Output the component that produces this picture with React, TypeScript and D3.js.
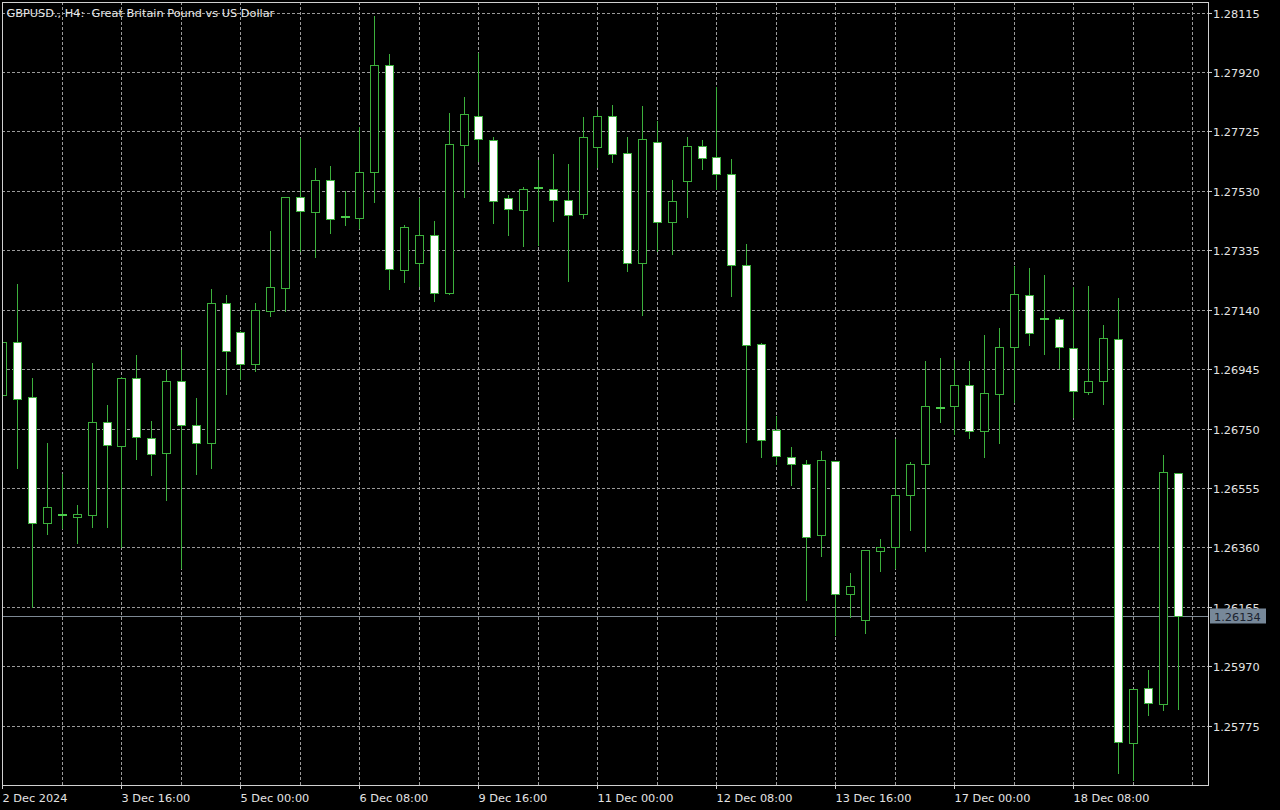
import { useEffect, useRef } from 'react'
import * as d3 from 'd3'

// H4 bars, 2 Dec 08:00 .. 18 Dec 16:00
const OPEN = [
  1.26859, 1.27033, 1.26852, 1.26439, 1.26465, 1.26460, 1.26467, 1.26771, 1.26693, 1.26915,
  1.26720, 1.26670, 1.26906, 1.26763, 1.26701, 1.27161, 1.27066, 1.26963, 1.27137, 1.27210,
  1.27509, 1.27460, 1.27567, 1.27443, 1.27441, 1.27591, 1.27943, 1.27271, 1.27292, 1.27386,
  1.27195, 1.27680, 1.27777, 1.27698, 1.27505, 1.27468, 1.27538, 1.27535, 1.27499, 1.27453,
  1.27673, 1.27777, 1.27653, 1.27292, 1.27689, 1.27426, 1.27563, 1.27677, 1.27640, 1.27584,
  1.27287, 1.27028, 1.26744, 1.26657, 1.26634, 1.26400, 1.26645, 1.26206, 1.26121, 1.26348,
  1.26360, 1.26533, 1.26635, 1.26819, 1.26823, 1.26892, 1.26741, 1.26864, 1.27017, 1.27189,
  1.27108, 1.27108, 1.27015, 1.26870, 1.26906, 1.27045, 1.25717, 1.25898, 1.25845, 1.26604,
]
const HIGH = [
  1.27046, 1.27226, 1.26919, 1.26706, 1.26603, 1.26501, 1.26968, 1.26829, 1.26921, 1.26996,
  1.26779, 1.26946, 1.27012, 1.26855, 1.27212, 1.27190, 1.27072, 1.27165, 1.27402, 1.27514,
  1.27708, 1.27607, 1.27615, 1.27534, 1.27744, 1.28108, 1.27982, 1.27422, 1.27509, 1.27435,
  1.27787, 1.27842, 1.27987, 1.27709, 1.27520, 1.27545, 1.27635, 1.27654, 1.27622, 1.27776,
  1.27797, 1.27815, 1.27711, 1.27813, 1.27762, 1.27569, 1.27711, 1.27700, 1.27875, 1.27638,
  1.27359, 1.27034, 1.26793, 1.26693, 1.26651, 1.26679, 1.26648, 1.26280, 1.26356, 1.26391,
  1.26719, 1.26643, 1.26974, 1.26984, 1.26979, 1.26974, 1.27061, 1.27083, 1.27288, 1.27279,
  1.27258, 1.27118, 1.27219, 1.27222, 1.27092, 1.27181, 1.25898, 1.25960, 1.26665, 1.26605,
]
const LOW = [
  1.26849, 1.26620, 1.26165, 1.26403, 1.26423, 1.26376, 1.26427, 1.26427, 1.26362, 1.26650,
  1.26597, 1.26515, 1.26294, 1.26602, 1.26620, 1.26864, 1.26914, 1.26938, 1.27118, 1.27137,
  1.27334, 1.27312, 1.27392, 1.27418, 1.27407, 1.27492, 1.27209, 1.27230, 1.27219, 1.27168,
  1.27193, 1.27509, 1.27627, 1.27425, 1.27386, 1.27348, 1.27353, 1.27431, 1.27233, 1.27441,
  1.27609, 1.27623, 1.27268, 1.27123, 1.27334, 1.27323, 1.27443, 1.27602, 1.27536, 1.27184,
  1.26706, 1.26657, 1.26635, 1.26566, 1.26187, 1.26332, 1.26072, 1.26132, 1.26078, 1.26283,
  1.26293, 1.26416, 1.26348, 1.26771, 1.26731, 1.26720, 1.26657, 1.26701, 1.26837, 1.27023,
  1.26996, 1.26948, 1.26788, 1.26862, 1.26832, 1.25619, 1.25597, 1.25810, 1.25827, 1.25830,
]
const CLOSE = [
  1.27033, 1.26846, 1.26439, 1.26491, 1.26465, 1.26471, 1.26773, 1.26695, 1.26917, 1.26722,
  1.26668, 1.26907, 1.26760, 1.26701, 1.27161, 1.27004, 1.26963, 1.27140, 1.27214, 1.27509,
  1.27463, 1.27567, 1.27438, 1.27443, 1.27591, 1.27943, 1.27274, 1.27410, 1.27386, 1.27195,
  1.27684, 1.27782, 1.27701, 1.27497, 1.27469, 1.27536, 1.27538, 1.27500, 1.27451, 1.27705,
  1.27777, 1.27651, 1.27292, 1.27700, 1.27427, 1.27497, 1.27677, 1.27638, 1.27585, 1.27287,
  1.27025, 1.26711, 1.26659, 1.26635, 1.26394, 1.26647, 1.26206, 1.26232, 1.26351, 1.26360,
  1.26533, 1.26635, 1.26824, 1.26819, 1.26894, 1.26741, 1.26866, 1.27017, 1.27192, 1.27064,
  1.27108, 1.27017, 1.26872, 1.26906, 1.27047, 1.25721, 1.25894, 1.25848, 1.26607, 1.26134,
]

const PRICE_TICKS = [
  1.28115, 1.27920, 1.27725, 1.27530, 1.27335, 1.27140, 1.26945,
  1.26750, 1.26555, 1.26360, 1.26165, 1.25970, 1.25775,
]

// one label every 8 bars
const TIME_LABELS = [
  '2 Dec 2024', '3 Dec 16:00', '5 Dec 00:00', '6 Dec 08:00', '9 Dec 16:00',
  '11 Dec 00:00', '12 Dec 08:00', '13 Dec 16:00', '17 Dec 00:00', '18 Dec 08:00',
]

const TITLE = 'GBPUSD., H4:  Great Britain Pound vs US Dollar'
const LAST_PRICE = 1.26134

const GREEN = '#3cb03c'
const GRID = '#9a9a9a'
const FONT = '"DejaVu Sans", Verdana, sans-serif'

export default function App() {
  const ref = useRef<SVGSVGElement>(null)

  useEffect(() => {
    const svg = d3.select(ref.current)
    svg.selectAll('*').remove()

    const width = 1280
    const height = 810
    const frame = { left: 2, top: 2, right: 1208, bottom: 785 }
    const snap = (v: number) => Math.round(v) + 0.5

    const x = d3.scaleLinear().domain([0, 80]).range([2.4, 1192.4])
    const y = d3.scaleLinear().domain([1.25775, 1.28115]).range([725.7, 12.5])

    svg.attr('viewBox', `0 0 ${width} ${height}`)
    svg.append('rect').attr('width', width).attr('height', height).attr('fill', '#000')

    svg.append('clipPath').attr('id', 'plot-clip')
      .append('rect')
      .attr('x', frame.left + 1).attr('y', frame.top + 1)
      .attr('width', frame.right - frame.left - 1)
      .attr('height', frame.bottom - frame.top - 1)

    // grid
    const grid = svg.append('g')
      .attr('stroke', GRID)
      .attr('stroke-width', 1)
      .attr('stroke-dasharray', '3,2')
      .attr('shape-rendering', 'crispEdges')

    grid.selectAll('.hgrid')
      .data(PRICE_TICKS)
      .join('line')
      .attr('x1', frame.left).attr('x2', frame.right)
      .attr('y1', d => snap(y(d))).attr('y2', d => snap(y(d)))

    grid.selectAll('.vgrid')
      .data(d3.range(4, 81, 4))
      .join('line')
      .attr('y1', frame.top).attr('y2', frame.bottom)
      .attr('x1', d => snap(x(d))).attr('x2', d => snap(x(d)))

    // last price line
    const lastY = snap(y(LAST_PRICE))
    svg.append('line')
      .attr('x1', frame.left).attr('x2', frame.right)
      .attr('y1', lastY).attr('y2', lastY)
      .attr('stroke', '#7d8893')
      .attr('shape-rendering', 'crispEdges')

    // candles
    const bars = OPEN.map((o, i) => ({ i, o, h: HIGH[i], l: LOW[i], c: CLOSE[i] }))
    const plot = svg.append('g').attr('clip-path', 'url(#plot-clip)')

    const candle = plot.selectAll('.candle')
      .data(bars)
      .join('g')
      .attr('class', 'candle')
      .attr('shape-rendering', 'crispEdges')

    candle.append('line')
      .attr('x1', d => snap(x(d.i))).attr('x2', d => snap(x(d.i)))
      .attr('y1', d => snap(y(d.h))).attr('y2', d => snap(y(d.l)))
      .attr('stroke', GREEN)

    candle.each(function (d) {
      const g = d3.select(this)
      const cx = Math.round(x(d.i))
      const top = Math.round(y(Math.max(d.o, d.c)))
      const bottom = Math.round(y(Math.min(d.o, d.c)))
      if (bottom - top < 1) {
        g.append('rect')
          .attr('x', cx - 4).attr('width', 9)
          .attr('y', top - 1).attr('height', 2)
          .attr('fill', '#4ccc4c')
        return
      }
      g.append('rect')
        .attr('x', cx - 3.5).attr('width', 8)
        .attr('y', top + 0.5).attr('height', bottom - top)
        .attr('fill', d.c < d.o ? '#ffffff' : '#000000')
        .attr('stroke', GREEN)
    })

    // frame
    svg.append('rect')
      .attr('x', frame.left + 0.5).attr('y', frame.top + 0.5)
      .attr('width', frame.right - frame.left)
      .attr('height', frame.bottom - frame.top)
      .attr('fill', 'none')
      .attr('stroke', '#d0d0d0')
      .attr('shape-rendering', 'crispEdges')

    // price axis
    const priceAxis = svg.append('g')
    priceAxis.selectAll('line')
      .data(PRICE_TICKS)
      .join('line')
      .attr('x1', frame.right).attr('x2', frame.right + 4)
      .attr('y1', d => snap(y(d))).attr('y2', d => snap(y(d)))
      .attr('stroke', '#d0d0d0')
      .attr('shape-rendering', 'crispEdges')
    priceAxis.selectAll('text')
      .data(PRICE_TICKS)
      .join('text')
      .attr('x', frame.right + 5)
      .attr('y', d => Math.round(y(d)) + 4.5)
      .attr('fill', '#e4e4e4')
      .attr('font-family', FONT)
      .attr('font-size', 11.3)
      .text(d => d.toFixed(5))

    // time axis
    const timeAxis = svg.append('g')
    timeAxis.selectAll('line')
      .data(TIME_LABELS)
      .join('line')
      .attr('x1', (_, k) => snap(x(k * 8))).attr('x2', (_, k) => snap(x(k * 8)))
      .attr('y1', frame.bottom).attr('y2', frame.bottom + 4)
      .attr('stroke', '#d0d0d0')
      .attr('shape-rendering', 'crispEdges')
    timeAxis.selectAll('text')
      .data(TIME_LABELS)
      .join('text')
      .attr('x', (_, k) => Math.round(x(k * 8)) + 0.5)
      .attr('y', 801.5)
      .attr('fill', '#e4e4e4')
      .attr('font-family', FONT)
      .attr('font-size', 11.3)
      .text(d => d)

    // last price tag
    svg.append('rect')
      .attr('x', frame.right + 2).attr('y', lastY - 8)
      .attr('width', 56).attr('height', 15)
      .attr('fill', '#778899')
    svg.append('text')
      .attr('x', frame.right + 6)
      .attr('y', lastY + 4)
      .attr('fill', '#1b2330')
      .attr('font-family', FONT)
      .attr('font-size', 11.3)
      .text(LAST_PRICE.toFixed(5))

    // title
    svg.append('text')
      .attr('x', 6.5).attr('y', 16.5)
      .attr('fill', '#e8e8e8')
      .attr('font-family', FONT)
      .attr('font-size', 11.3)
      .attr('xml:space', 'preserve')
      .style('white-space', 'pre')
      .text(TITLE)
  }, [])

  return (
    <svg
      ref={ref}
      width={1280}
      height={810}
      style={{ position: 'absolute', left: 0, top: 0, display: 'block', background: '#000' }}
    />
  )
}
